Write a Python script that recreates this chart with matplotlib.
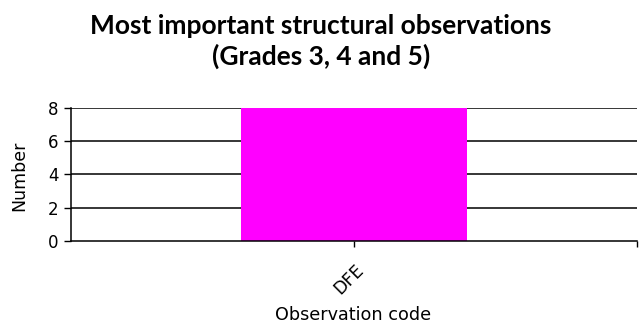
import matplotlib
matplotlib.use("Agg")
import matplotlib.pyplot as plt
from matplotlib.transforms import ScaledTranslation

categories = ["DFE"]
values = [8]
yticks = [0, 2, 4, 6, 8]

fig = plt.figure(figsize=(6.42, 3.25), dpi=100)
ax = fig.add_axes([71/642, 1-241/325, (637-71)/642, (241-107.7)/325])

ax.bar(range(len(categories)), values, width=0.4, color="#FF00FF", zorder=2)
ax.set_xlim(-0.5, len(categories) - 0.5)
ax.set_ylim(0, 8)
ax.set_yticks(yticks)
ax.set_yticklabels([str(v) for v in yticks], fontsize=12, family="DejaVu Sans")
for y in yticks[1:]:
    ax.axhline(y, color="black", lw=1.1, zorder=1)

ax.set_xticks(range(len(categories)))
ax.set_xticklabels(categories, rotation=45, ha="right", rotation_mode="anchor", fontsize=12.5)
ax.set_xticks([len(categories) - 0.5], minor=True)
ax.tick_params(axis="x", which="both", direction="out", length=4, width=1, pad=10)
ax.tick_params(axis="y", direction="out", length=5, width=1, pad=4)
for lab in ax.get_xticklabels():
    lab.set_transform(lab.get_transform() + ScaledTranslation(1/100, 0, fig.dpi_scale_trans))

for s in ["top", "right"]:
    ax.spines[s].set_visible(False)
for s in ["left", "bottom"]:
    ax.spines[s].set_linewidth(1.1)

ax.set_ylabel("Number", fontsize=12.5)
ax.yaxis.set_label_coords((28-71)/566, (241-176)/133.3)
ax.set_xlabel("Observation code", fontsize=12.7)
ax.xaxis.set_label_coords((353-71)/566, -(306-241)/133.3)

fig.text(321/642, 1-26/325, "Most important structural observations", ha="center", va="center",
         fontsize=19, fontweight="bold", family="Lato")
fig.text(321/642, 1-56/325, "(Grades 3, 4 and 5)", ha="center", va="center",
         fontsize=19, fontweight="bold", family="Lato")

fig.savefig("out.png", dpi=100)
